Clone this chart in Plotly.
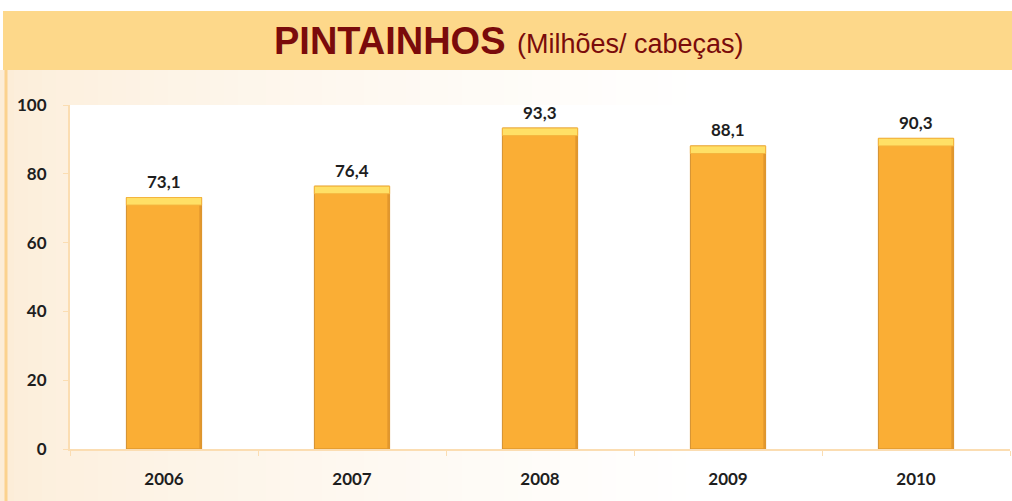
import plotly.graph_objects as go

# Chick production, millions of head
years = ["2006", "2007", "2008", "2009", "2010"]
values = [73.1, 76.4, 93.3, 88.1, 90.3]
value_labels = ["73,1", "76,4", "93,3", "88,1", "90,3"]
y_ticks = [0, 20, 40, 60, 80, 100]

CAP = 2.2  # height of the light bevel on top of each bar, in axis units
BAR_W = 0.4
BODY = "#FAAE35"
CAP_COLOR = "#FFE066"
EDGE = "#D38F2C"
AXIS = "#FBDDB2"
TEXT = "#1E1E1E"
TITLE = "#7A0B0B"

fig = go.Figure()

# bar bodies
fig.add_trace(go.Bar(
    x=years, y=values, width=BAR_W,
    marker=dict(color=BODY, line=dict(color=EDGE, width=1)),
    hoverinfo="skip", showlegend=False,
))
# darker shading along the right side of each bar
fig.add_trace(go.Bar(
    x=years, y=values, width=0.012, offset=BAR_W / 2 - 0.012,
    marker=dict(color="#E2972C", line=dict(width=0)),
    hoverinfo="skip", showlegend=False,
))
# bevelled top caps
fig.add_trace(go.Bar(
    x=years, y=[CAP] * len(values), base=[v - CAP for v in values], width=BAR_W,
    marker=dict(color=CAP_COLOR, line=dict(color="#F4B53E", width=1)),
    hoverinfo="skip", showlegend=False,
))

# value labels above the bars (category index used as x position)
for i, (v, lab) in enumerate(zip(values, value_labels)):
    fig.add_annotation(x=i, y=v, text=lab, showarrow=False, yshift=16,
                       yanchor="middle",
                       font=dict(family="Lato", size=17, color=TEXT, weight="bold"))

# page background: soft peach fading to white towards the right
W, H = 1012, 501
L, R, T, B = 70, 2, 105, 52
pw, ph = W - L - R, H - T - B


def px_x(x):
    return (x - L) / pw


def px_y(y):
    return (H - B - y) / ph


shapes = []
n = 50
span = 700
for i in range(n):
    x0 = i * span / n
    x1 = (i + 1) * span / n + 1
    t = (i / (n - 1)) ** 0.7
    r = round(252 + (255 - 252) * t)
    g = round(237 + (255 - 237) * t)
    b = round(216 + (255 - 216) * t)
    shapes.append(dict(type="rect", xref="paper", yref="paper",
                       x0=px_x(x0), x1=px_x(x1), y0=px_y(H), y1=px_y(70),
                       fillcolor=f"rgb({r},{g},{b})", line=dict(width=0),
                       layer="below"))
# white plotting area
shapes.append(dict(type="rect", xref="paper", yref="paper", x0=0, x1=1, y0=0, y1=1,
                   fillcolor="white", line=dict(width=0), layer="below"))
# title band
shapes.append(dict(type="rect", xref="paper", yref="paper",
                   x0=px_x(3), x1=px_x(W + 2), y0=px_y(70), y1=px_y(11),
                   fillcolor="#FDD88A", line=dict(width=0), layer="below"))
# thin orange rule down the left edge
shapes.append(dict(type="line", xref="paper", yref="paper",
                   x0=px_x(6), x1=px_x(6), y0=px_y(H), y1=px_y(70),
                   line=dict(color="#FBD28E", width=3), layer="below"))

fig.add_annotation(xref="paper", yref="paper", x=px_x(508), y=px_y(41),
                   xanchor="right", yanchor="middle", showarrow=False,
                   text="<b>PINTAINHOS</b>",
                   font=dict(family="Liberation Sans", size=38, color=TITLE))
fig.add_annotation(xref="paper", yref="paper", x=px_x(515), y=px_y(44),
                   xanchor="left", yanchor="middle", showarrow=False,
                   text="(Milhões/ cabeças)",
                   font=dict(family="Liberation Sans", size=27, color=TITLE))

fig.update_layout(
    width=W, height=H,
    margin=dict(l=L, r=R, t=T, b=B),
    paper_bgcolor="white", plot_bgcolor="rgba(0,0,0,0)",
    barmode="overlay",
    shapes=shapes,
    showlegend=False,
    xaxis=dict(
        type="category", range=[-0.5, len(years) - 0.5],
        showline=True, linecolor=AXIS, linewidth=2,
        ticks="outside", tickson="boundaries", ticklen=5, tickcolor=AXIS,
        tickfont=dict(family="Lato", size=17, color=TEXT, weight="bold"),
        ticklabelstandoff=14,
        showgrid=False, zeroline=False, fixedrange=True,
    ),
    yaxis=dict(
        range=[0, 100], tickvals=y_ticks, showline=True, linecolor=AXIS,
        linewidth=2, ticks="outside", ticklen=5, tickcolor=AXIS,
        tickfont=dict(family="Lato", size=17, color=TEXT, weight="bold"),
        ticklabelstandoff=13,
        showgrid=False, zeroline=False, fixedrange=True,
    ),
)

fig.write_html("out.html", config={"displayModeBar": False})
